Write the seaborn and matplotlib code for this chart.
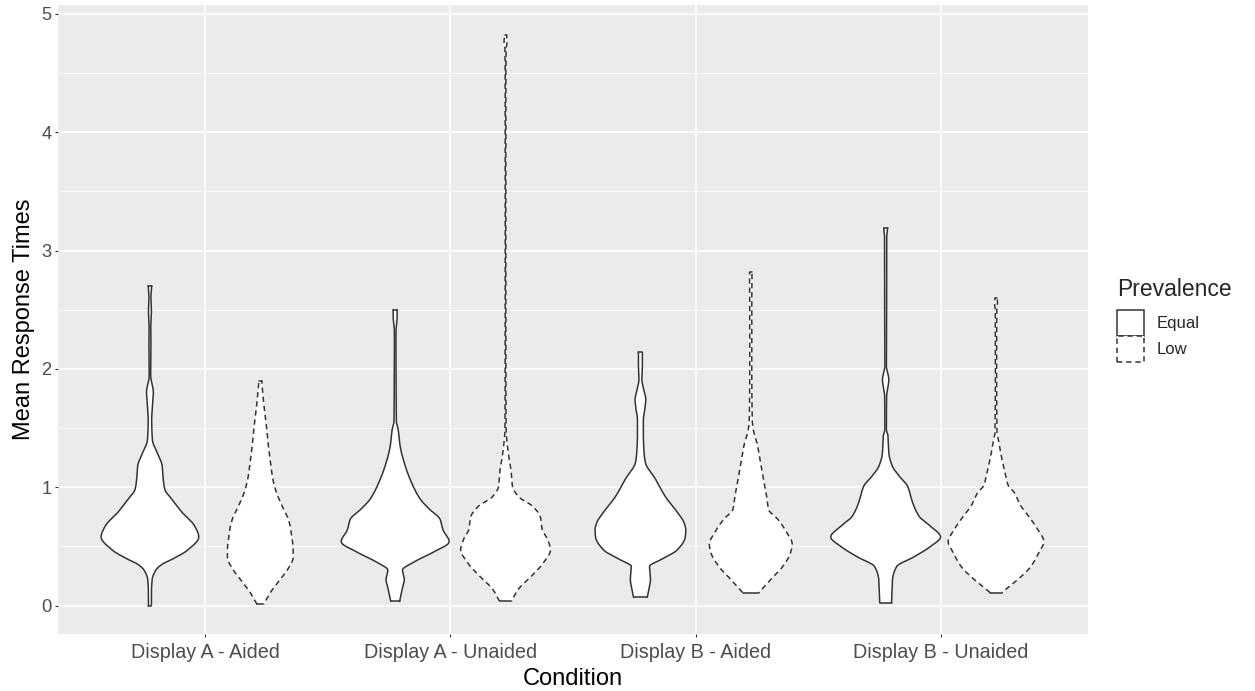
import numpy as np
import seaborn as sns
import matplotlib.pyplot as plt
from matplotlib.patches import Patch

# Categories
conditions = ['Display A - Aided', 'Display A - Unaided', 'Display B - Aided', 'Display B - Unaided']
prevalence = ['Equal', 'Low']

# Violin outlines: response time (y) and half-width of the density
a_aided_equal_y = [0.00, 0.10, 0.22, 0.30, 0.35, 0.39, 0.47, 0.58, 0.67, 0.79, 0.90, 0.98, 1.07, 1.18,
                   1.29, 1.40, 1.57, 1.68, 1.80, 1.94, 2.19, 2.33, 2.48, 2.60, 2.70]
a_aided_equal_w = [0.006, 0.006, 0.009, 0.024, 0.050, 0.089, 0.154, 0.199, 0.183, 0.130, 0.089, 0.061, 0.054, 0.050,
                   0.030, 0.010, 0.007, 0.010, 0.014, 0.003, 0.004, 0.003, 0.006, 0.004, 0.007]

a_aided_low_y = [0.01, 0.11, 0.22, 0.30, 0.41, 0.48, 0.56, 0.65, 0.73, 0.84, 0.96, 1.07, 1.20, 1.35,
                 1.50, 1.63, 1.75, 1.83, 1.90]
a_aided_low_w = [0.013, 0.041, 0.081, 0.110, 0.134, 0.134, 0.130, 0.124, 0.114, 0.089, 0.065, 0.051, 0.042, 0.033,
                 0.026, 0.018, 0.012, 0.008, 0.006]

a_unaided_equal_y = [0.035, 0.135, 0.22, 0.30, 0.36, 0.45, 0.54, 0.64, 0.73, 0.81, 0.90, 1.01, 1.18, 1.35,
                     1.49, 1.55, 1.74, 2.00, 2.31, 2.44, 2.50]
a_unaided_equal_w = [0.018, 0.028, 0.037, 0.030, 0.069, 0.154, 0.220, 0.195, 0.183, 0.142, 0.102, 0.073, 0.041, 0.020,
                     0.012, 0.005, 0.004, 0.003, 0.003, 0.008, 0.008]

a_unaided_low_y = [0.035, 0.135, 0.25, 0.36, 0.47, 0.56, 0.64, 0.75, 0.84, 0.92, 1.01, 1.12, 1.26, 1.40,
                   1.46, 2.00, 3.00, 4.00, 4.70, 4.76, 4.82]
a_unaided_low_w = [0.024, 0.051, 0.106, 0.154, 0.183, 0.171, 0.150, 0.142, 0.110, 0.053, 0.028, 0.024, 0.013, 0.005,
                   0.0025, 0.0016, 0.0012, 0.0012, 0.002, 0.006, 0.004]

b_aided_equal_y = [0.07, 0.15, 0.22, 0.33, 0.39, 0.47, 0.58, 0.64, 0.70, 0.79, 0.92, 1.07, 1.21, 1.29,
                   1.43, 1.57, 1.66, 1.74, 1.82, 1.91, 2.00, 2.14]
b_aided_equal_w = [0.028, 0.036, 0.041, 0.037, 0.085, 0.150, 0.183, 0.185, 0.178, 0.150, 0.102, 0.061, 0.020, 0.015,
                   0.012, 0.012, 0.018, 0.022, 0.014, 0.006, 0.008, 0.008]

b_aided_low_y = [0.11, 0.22, 0.33, 0.45, 0.52, 0.62, 0.73, 0.81, 0.92, 1.03, 1.15, 1.35, 1.49, 1.57,
                 2.00, 2.50, 2.82]
b_aided_low_w = [0.033, 0.081, 0.130, 0.163, 0.169, 0.146, 0.110, 0.073, 0.065, 0.055, 0.045, 0.028, 0.010, 0.006,
                 0.004, 0.004, 0.005]

b_unaided_equal_y = [0.025, 0.22, 0.33, 0.41, 0.50, 0.58, 0.67, 0.75, 0.87, 1.01, 1.09, 1.18, 1.29, 1.43,
                     1.49, 1.77, 1.85, 1.91, 1.97, 2.02, 2.50, 3.10, 3.19]
b_unaided_equal_w = [0.024, 0.028, 0.045, 0.114, 0.183, 0.224, 0.183, 0.138, 0.110, 0.089, 0.057, 0.027, 0.013, 0.010,
                     0.003, 0.004, 0.010, 0.013, 0.008, 0.003, 0.004, 0.004, 0.008]

b_unaided_low_y = [0.11, 0.22, 0.33, 0.45, 0.54, 0.64, 0.73, 0.84, 0.96, 1.01, 1.12, 1.26, 1.40, 1.46,
                   2.00, 2.50, 2.56, 2.60]
b_unaided_low_w = [0.024, 0.089, 0.142, 0.175, 0.195, 0.171, 0.142, 0.102, 0.073, 0.051, 0.037, 0.022, 0.010, 0.004,
                   0.0025, 0.003, 0.006, 0.004]

profiles = {
    ('Display A - Aided', 'Equal'): (a_aided_equal_y, a_aided_equal_w),
    ('Display A - Aided', 'Low'): (a_aided_low_y, a_aided_low_w),
    ('Display A - Unaided', 'Equal'): (a_unaided_equal_y, a_unaided_equal_w),
    ('Display A - Unaided', 'Low'): (a_unaided_low_y, a_unaided_low_w),
    ('Display B - Aided', 'Equal'): (b_aided_equal_y, b_aided_equal_w),
    ('Display B - Aided', 'Low'): (b_aided_low_y, b_aided_low_w),
    ('Display B - Unaided', 'Equal'): (b_unaided_equal_y, b_unaided_equal_w),
    ('Display B - Unaided', 'Low'): (b_unaided_low_y, b_unaided_low_w),
}


# Draw the outline as a smooth (monotone cubic) curve through the read points
def smooth_outline(y, w, n=12):
    y = np.asarray(y, float)
    w = np.asarray(w, float)
    h = np.diff(y)
    d = np.diff(w) / h
    m = np.zeros_like(w)
    m[0], m[-1] = d[0], d[-1]
    for k in range(1, len(w) - 1):
        if d[k - 1] * d[k] > 0:
            w1 = 2 * h[k] + h[k - 1]
            w2 = h[k] + 2 * h[k - 1]
            m[k] = (w1 + w2) / (w1 / d[k - 1] + w2 / d[k])
    t = np.linspace(0, 1, n, endpoint=False)
    h00 = 2 * t**3 - 3 * t**2 + 1
    h10 = t**3 - 2 * t**2 + t
    h01 = -2 * t**3 + 3 * t**2
    h11 = t**3 - t**2
    ys, ws = [], []
    for k in range(len(h)):
        ys.append(y[k] + t * h[k])
        ws.append(h00 * w[k] + h10 * h[k] * m[k] + h01 * w[k + 1] + h11 * h[k] * m[k + 1])
    ys.append([y[-1]])
    ws.append([w[-1]])
    return np.concatenate(ys), np.clip(np.concatenate(ws), 0.0008, None)


# ggplot-like grey theme
sns.set_theme(style='darkgrid', rc={
    'axes.facecolor': '#EBEBEB',
    'grid.color': 'white',
    'axes.edgecolor': '#EBEBEB',
    'xtick.bottom': True,
    'ytick.left': True,
})
plt.rcParams['font.family'] = ['Liberation Sans', 'DejaVu Sans']

fig = plt.figure(figsize=(12.55, 6.91), dpi=100)
ax = fig.add_axes([0.0462, 0.0825, 0.8207, 0.9103])

styles = {'Equal': '-', 'Low': (0, (3.5, 2.5))}
right_styles = {'Equal': '-', 'Low': (3.0, (3.5, 2.5))}
offsets = {'Equal': -0.225, 'Low': 0.225}

for i, cond in enumerate(conditions):
    for prev in prevalence:
        y, w = smooth_outline(*profiles[(cond, prev)])
        c = i + offsets[prev]
        ax.fill_betweenx(y, c - w, c + w, facecolor='white', edgecolor='none', zorder=3)
        # both sides run bottom to top; the right side gets a shifted dash phase
        ax.plot(c - w, y, color='#333333', lw=1.1, linestyle=styles[prev], zorder=4)
        ax.plot(c + w, y, color='#333333', lw=1.1, linestyle=right_styles[prev], zorder=4)
        for k in (0, -1):
            ax.plot([c - w[k], c + w[k]], [y[k], y[k]], color='#333333', lw=1.1, zorder=4)

ax.set_xlim(-0.6, 3.6)
ax.set_ylim(-0.24, 5.075)
ax.set_xticks(range(len(conditions)))
ax.set_xticklabels(conditions)
ax.set_yticks([0, 1, 2, 3, 4, 5])
ax.set_yticks([0.5, 1.5, 2.5, 3.5, 4.5], minor=True)
ax.grid(which='major', color='white', lw=1.1)
ax.grid(which='minor', axis='y', color='white', lw=0.55)
ax.tick_params(axis='both', which='major', length=2.5, width=0.8, color='#333333',
               labelcolor='#4D4D4D', pad=2)
ax.tick_params(axis='y', which='minor', length=0)
ax.tick_params(axis='x', labelsize=14.2, pad=4)
ax.tick_params(axis='y', labelsize=13.2)
ax.set_xlabel('Condition', fontsize=17, color='black', labelpad=4)
ax.set_ylabel('Mean Response Times', fontsize=17, color='black', labelpad=5)
sns.despine(ax=ax, left=True, bottom=True)

# Legend: title placed by hand, keys below it
fig.text(1117 / 1255, 1 - 290 / 691, 'Prevalence', fontsize=16.5, va='center', ha='left')
handles = [Patch(facecolor='white', edgecolor='#333333', lw=1.1, linestyle=styles[p]) for p in prevalence]
leg = ax.legend(handles, prevalence, loc='upper left',
                bbox_to_anchor=(1117 / 1255, 1 - 310 / 691), bbox_transform=fig.transFigure,
                frameon=False, fontsize=12,
                handlelength=1.6, handleheight=2.0, labelspacing=0.0, handletextpad=0.8,
                borderaxespad=0, borderpad=0)

plt.savefig('out.png', dpi=100)
